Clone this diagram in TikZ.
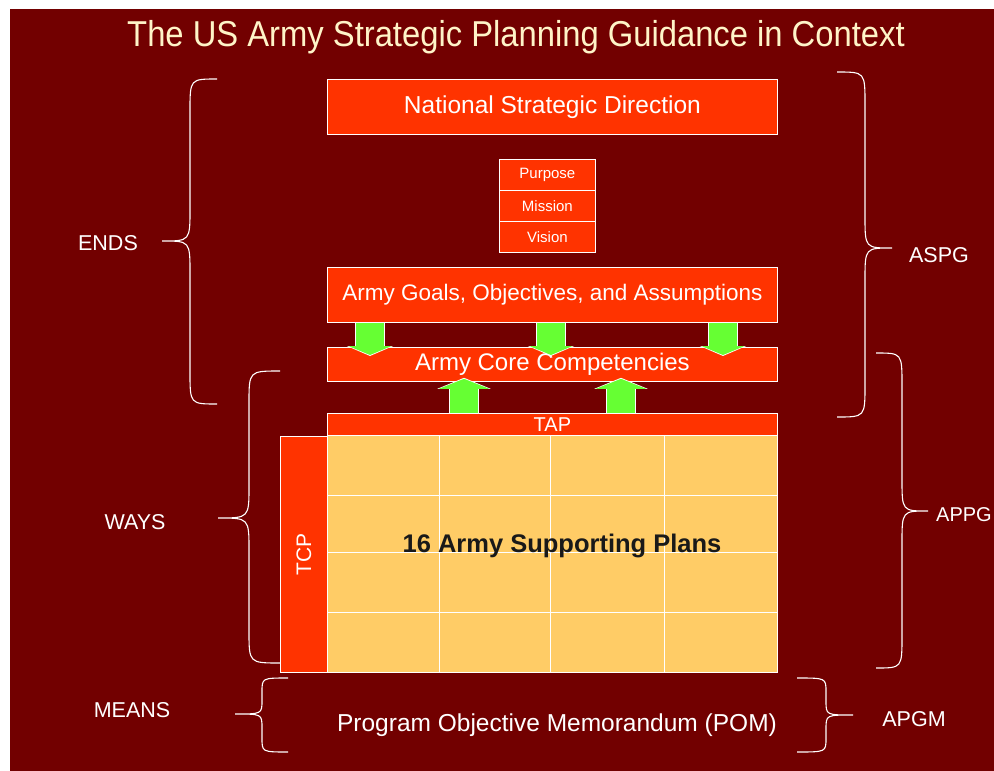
\documentclass[tikz,border=0pt]{standalone}
\usepackage{fontspec}
\usepackage{graphicx}
\setmainfont{Liberation Sans}
\usetikzlibrary{arrows.meta,calc}
\definecolor{bgred}{HTML}{720000}
\definecolor{boxred}{HTML}{FF3300}
\definecolor{planfill}{HTML}{FFCC66}
\definecolor{arrgreen}{HTML}{66FF33}
\definecolor{titlecol}{HTML}{FFF4C8}
\newcommand{\fsz}[1]{\fontsize{#1}{#1}\selectfont}
% xe, xv, xt, ytop, ybot, ytip, r
\newcommand{\curlybrace}[7]{%
  \draw[bracestyle] (#1,#4) .. controls (#2,#4) .. (#2,{#4+#7}) -- (#2,{#6-#7})
    .. controls (#2,#6) .. (#3,#6) .. controls (#2,#6) .. (#2,{#6+#7})
    -- (#2,{#5-#7}) .. controls (#2,#5) .. (#1,#5);}
\begin{document}
\begin{tikzpicture}[x=1pt,y=-1pt,
  redbox/.style={draw=white, line width=0.8pt, fill=boxred, text=white, inner sep=0pt, anchor=north west},
  gridline/.style={draw=white, line width=1pt},
  lbl/.style={text=white, font=\fsz{21.5}, inner sep=0pt},
  bracestyle/.style={draw=white, line width=1.1pt},
  downarr/.style={arrgreen, line width=28pt, -{Triangle[width=43pt,length=9pt]}, shorten >=-8pt,
    preaction={draw=white, line width=29.5pt, -{Triangle[width=46pt,length=10pt]}, shorten >=-9pt}},
  uparr/.style={arrgreen, line width=28pt, -{Triangle[width=50pt,length=10pt]}, shorten >=-3pt,
    preaction={draw=white, line width=29.5pt, -{Triangle[width=53pt,length=11pt]}, shorten >=-4pt}}
]
\useasboundingbox (0,0) rectangle (994,771);
\fill[white] (0,0) rectangle (994,771);
\fill[bgred] (10,9) rectangle (994,771);

% title
\node[text=titlecol, font=\fsz{36}, anchor=base, inner sep=0pt] (title) at (516,46)
  {\scalebox{0.91}[1]{The US Army Strategic Planning Guidance in Context}};

% boxes
\node[redbox, minimum width=450pt, minimum height=55pt, font=\fsz{24.5}] (nsd) at (327,79) {National Strategic Direction};
\node[redbox, minimum width=96pt, minimum height=31pt, font=\fsz{15}] (purpose) at (499,159) {Purpose};
\node[redbox, minimum width=96pt, minimum height=31pt, font=\fsz{15}] (mission) at (499,190) {Mission};
\node[redbox, minimum width=96pt, minimum height=31pt, font=\fsz{15}] (vision) at (499,221) {Vision};
\node[redbox, minimum width=450pt, minimum height=55pt, font=\fsz{22.5}] (goals) at (327,267) {Army Goals, Objectives, and Assumptions};
\node[redbox, minimum width=450pt, minimum height=34pt, font=\fsz{24}] (core) at (327,347) {Army Core Competencies};
\node[redbox, minimum width=450pt, minimum height=22pt, font=\fsz{20}] (tap) at (327,413) {TAP};

% plans grid
\node[draw=white, line width=1pt, fill=planfill, minimum width=450pt, minimum height=237pt, inner sep=0pt, anchor=north west] (grid) at (327,435) {};
\foreach \dx in {112,223,337}
  \draw[gridline] ([xshift=\dx pt]grid.north west) -- ([xshift=\dx pt]grid.south west);
\foreach \dy in {60,117,177}
  \draw[gridline] ([yshift=-\dy pt]grid.north west) -- ([yshift=-\dy pt]grid.north east);
\node[redbox, minimum width=47pt, minimum height=236pt] (tcp) at (280,436) {};
\node[rotate=90, text=white, font=\fsz{21}, inner sep=0pt] (tcplabel) at (tcp.center) {TCP};
\node[font=\bfseries\fsz{25.5}, text=black!90, inner sep=0pt] (plans) at (562,546) {16 Army Supporting Plans};

% green arrows
\foreach \dx in {43,224,396}
  \draw[downarr] ([xshift=\dx pt]goals.south west) -- ([xshift=\dx pt]core.north west);
\foreach \dx in {137,294}
  \draw[uparr] ([xshift=\dx pt]tap.north west) -- ([xshift=\dx pt]core.south west);

% POM
\node[text=white, font=\fsz{24.5}, inner sep=0pt] (pom) at (557,725) {Program Objective Memorandum (POM)};

% braces
\curlybrace{217}{190}{162}{79}{404}{241}{32}
\curlybrace{280}{249}{218}{371}{663}{518}{32}
\curlybrace{288}{262}{235}{678}{752}{714}{14}
\curlybrace{837}{865}{892}{72}{417}{248}{32}
\curlybrace{876}{902}{928}{353}{668}{511}{32}
\curlybrace{797}{826}{853}{678}{752}{715}{14}

% side labels
\node[lbl] (ends) at (108,243) {ENDS};
\node[lbl] (ways) at (135,522) {WAYS};
\node[lbl] (means) at (132,710) {MEANS};
\node[lbl] (aspg) at (939,255) {ASPG};
\node[lbl, font=\fsz{20}] (appg) at (964,515) {APPG};
\node[lbl] (apgm) at (914,719) {APGM};
\end{tikzpicture}
\end{document}
